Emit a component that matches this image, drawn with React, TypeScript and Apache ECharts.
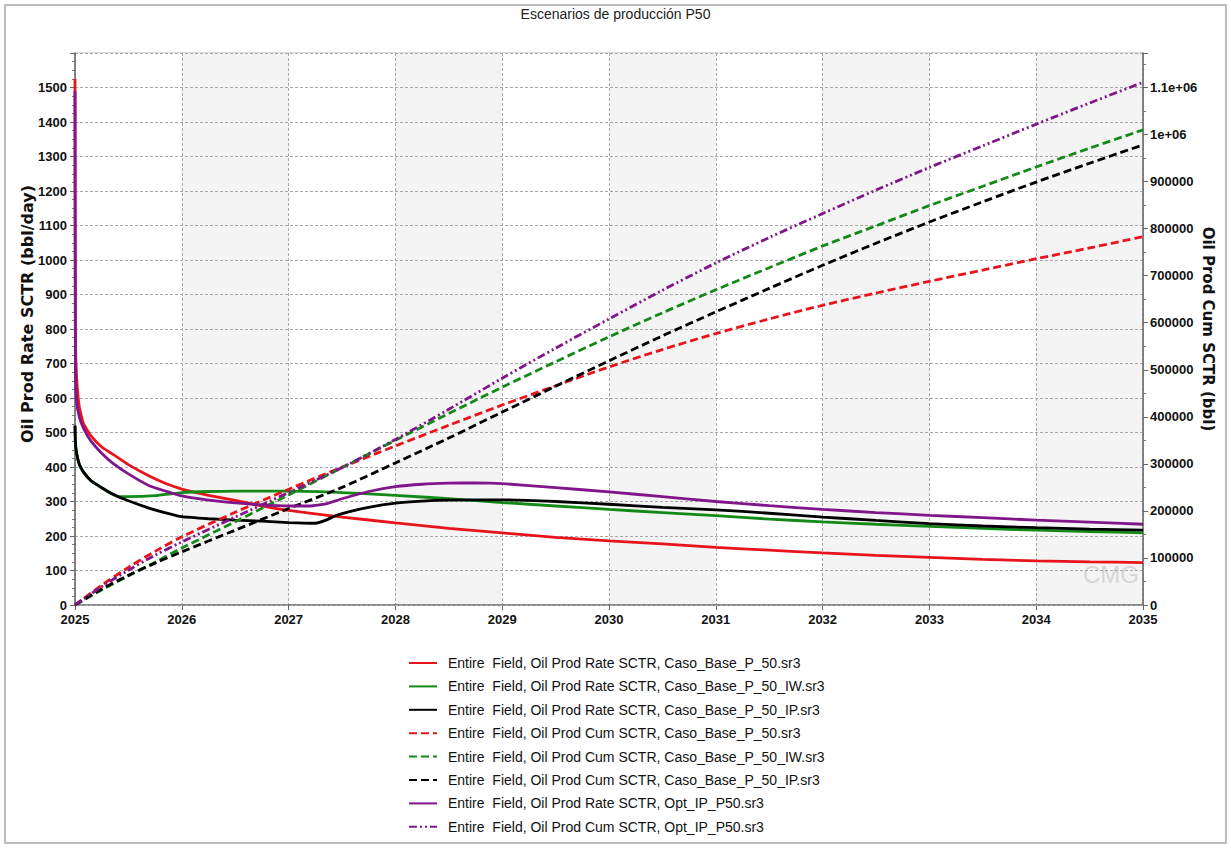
import React, { useEffect, useRef } from "react";
import * as echarts from "echarts";

const FONT = "'Liberation Sans', Arial, Helvetica, sans-serif";
const NAME_FONT = "'DejaVu Sans', 'Liberation Sans', Arial, sans-serif";

const TITLE = "Escenarios de producción P50";
const LEFT_NAME = "Oil Prod Rate SCTR (bbl/day)";
const RIGHT_NAME = "Oil Prod Cum SCTR (bbl)";

const seriesNames = [
  "Entire  Field, Oil Prod Rate SCTR, Caso_Base_P_50.sr3",
  "Entire  Field, Oil Prod Rate SCTR, Caso_Base_P_50_IW.sr3",
  "Entire  Field, Oil Prod Rate SCTR, Caso_Base_P_50_IP.sr3",
  "Entire  Field, Oil Prod Cum SCTR, Caso_Base_P_50.sr3",
  "Entire  Field, Oil Prod Cum SCTR, Caso_Base_P_50_IW.sr3",
  "Entire  Field, Oil Prod Cum SCTR, Caso_Base_P_50_IP.sr3",
  "Entire  Field, Oil Prod Rate SCTR, Opt_IP_P50.sr3",
  "Entire  Field, Oil Prod Cum SCTR, Opt_IP_P50.sr3",
];

// ---- Rate curves (bbl/day) ----
const baseRateT = [2025, 2025.004, 2025.015, 2025.04, 2025.08, 2025.15, 2025.25, 2025.35, 2025.5, 2025.7, 2025.85, 2026, 2026.25, 2026.5, 2026.75, 2027, 2027.5, 2028, 2028.5, 2029, 2029.5, 2030, 2030.5, 2031, 2031.5, 2032, 2032.5, 2033, 2033.5, 2034, 2034.5, 2035];
const baseRate = [1525, 770, 660, 575, 525, 490, 458, 438, 407, 373, 352, 336, 318, 303, 287, 274, 255, 238, 222, 209, 196, 186, 177, 167, 159, 151, 144, 138, 132, 128, 125, 123];

const iwRateT = [2025, 2025.004, 2025.015, 2025.04, 2025.08, 2025.15, 2025.25, 2025.3, 2025.4, 2025.5, 2025.75, 2026, 2026.25, 2026.5, 2027, 2027.5, 2028, 2028.5, 2029, 2029.5, 2030, 2030.5, 2031, 2031.5, 2032, 2032.5, 2033, 2033.5, 2034, 2034.5, 2035];
const iwRate = [520, 470, 440, 408, 385, 360, 340, 330, 315, 314, 317, 326, 329, 330, 330, 326, 318, 308, 297, 287, 277, 268, 259, 249, 241, 234, 228, 222, 217, 213, 209];

const ipRateT = [2025, 2025.004, 2025.015, 2025.04, 2025.08, 2025.15, 2025.25, 2025.35, 2025.5, 2025.7, 2025.85, 2026, 2026.25, 2026.5, 2026.75, 2027, 2027.25, 2027.35, 2027.45, 2027.6, 2027.75, 2028, 2028.25, 2028.5, 2029, 2029.5, 2030, 2030.5, 2031, 2031.5, 2032, 2032.5, 2033, 2033.5, 2034, 2034.5, 2035];
const ipRate = [520, 470, 440, 408, 385, 360, 340, 322, 302, 280, 267, 256, 250, 246, 243, 239, 237, 246, 260, 273, 283, 295, 301, 304, 305, 300, 292, 283, 276, 266, 255, 245, 236, 229, 224, 220, 217];

const optRateT = [2025, 2025.004, 2025.015, 2025.04, 2025.08, 2025.15, 2025.25, 2025.35, 2025.5, 2025.7, 2025.85, 2026, 2026.25, 2026.5, 2026.75, 2027, 2027.2, 2027.35, 2027.5, 2027.75, 2028, 2028.25, 2028.5, 2028.75, 2029, 2029.5, 2030, 2030.5, 2031, 2031.5, 2032, 2032.5, 2033, 2033.5, 2034, 2034.5, 2035];
const optRate = [1490, 680, 590, 545, 512, 475, 440, 412, 380, 345, 330, 316, 304, 296, 290, 287, 287, 293, 308, 329, 343, 350, 353, 354, 352, 340, 328, 314, 300, 288, 277, 268, 260, 253, 246, 240, 234];

// ---- Cumulative curves (bbl) ----
const cumT = [2025, 2025.25, 2025.5, 2025.75, 2026, 2026.5, 2027, 2027.5, 2028, 2028.5, 2029, 2029.5, 2030, 2030.5, 2031, 2031.5, 2032, 2032.5, 2033, 2033.5, 2034, 2034.5, 2035];
const baseCum = [0, 42000, 80000, 114000, 145000, 197000, 246000, 293000, 338000, 382000, 425000, 466000, 506000, 543000, 577000, 608000, 637000, 663000, 688000, 712000, 736000, 759000, 783000];
const iwCum = [0, 32000, 62000, 91000, 121000, 177000, 234000, 292000, 350000, 407000, 463000, 517000, 570000, 621000, 670000, 717000, 763000, 806000, 849000, 890000, 931000, 971000, 1010000];
const ipCum = [0, 34000, 63000, 89000, 113000, 159000, 205000, 250000, 302000, 355000, 410000, 465000, 519000, 572000, 623000, 673000, 722000, 769000, 814000, 857000, 899000, 939000, 978000];
const optCum = [0, 39000, 74000, 106000, 134000, 187000, 239000, 292000, 352000, 416000, 482000, 546000, 608000, 669000, 727000, 781000, 832000, 882000, 930000, 976000, 1022000, 1067000, 1111000];

const xTicks = { min: 2025, max: 2035, step: 1 };
const leftTicks = { min: 0, max: 1600, step: 100 };
const rightTicks = { min: 0, max: 1173333.33, step: 100000 };

const RED = "#e8141b";
const GREEN = "#138a17";
const BLACK = "#000000";
const PURPLE = "#80168a";

const pts = (t: number[], v: number[]) => t.map((x, i) => [x, v[i]]);

function rightFmt(v: number) {
  if (v >= 1000000) {
    const m = Math.round((v / 1000000) * 10) / 10;
    return m + "e+06";
  }
  return String(Math.round(v));
}

export default function App() {
  const ref = useRef<HTMLDivElement>(null);
  useEffect(() => {
    const chart = echarts.init(ref.current as HTMLDivElement, null, { renderer: "svg" });
    const W = 2.8;
    const solid = (color: string) => ({ width: W, color, type: "solid" as const });
    const dashed = (color: string) => ({ width: W, color, type: [8, 4] as any });
    const mk = (name: string, data: number[][], lineStyle: any, yAxisIndex: number, smooth: number | boolean) => ({
      name,
      type: "line",
      data,
      yAxisIndex,
      symbol: "none",
      showSymbol: false,
      smooth,
      lineStyle,
      itemStyle: { color: lineStyle.color },
      z: 5,
      silent: true,
    });
    const gridLine = { show: true, lineStyle: { color: "#a8a8a8", type: [3, 2], width: 1 } };
    const option: any = {
      animation: false,
      backgroundColor: "#ffffff",
      textStyle: { fontFamily: FONT },
      title: {
        text: TITLE,
        left: "center",
        top: 2,
        textStyle: { fontSize: 14, fontWeight: "normal", color: "#222", fontFamily: FONT },
      },
      graphic: [
        {
          type: "rect",
          shape: { x: 5, y: 5, width: 1221, height: 838 },
          style: { fill: "none", stroke: "#bdbdbd", lineWidth: 2 },
          silent: true,
          z: -1,
        },
        {
          type: "text",
          x: 1083,
          y: 562,
          style: { text: "CMG", fill: "#d6d6d6", fontSize: 24, fontFamily: FONT },
          silent: true,
          z: 1,
        },
      ],
      legend: {
        data: seriesNames,
        orient: "vertical",
        left: 403,
        top: 651,
        itemWidth: 28,
        itemHeight: 14,
        itemGap: 9.4,
        selectedMode: false,
        itemStyle: { opacity: 0 },
        textStyle: { fontSize: 14, color: "#111", fontFamily: FONT, padding: [0, 0, 0, 6] },
      },
      grid: {
        left: 75,
        right: 88,
        top: 53,
        bottom: 243,
        show: true,
        borderColor: "#b5b5b5",
        borderWidth: 1,
        backgroundColor: "transparent",
      },
      xAxis: {
        type: "value",
        z: 0,
        min: xTicks.min,
        max: xTicks.max,
        interval: xTicks.step,
        axisLine: { show: true, onZero: false, lineStyle: { color: "#666", width: 1.5 } },
        axisTick: { show: true, length: 5, lineStyle: { color: "#666" } },
        axisLabel: {
          formatter: (v: number) => String(v),
          fontSize: 13,
          fontWeight: "bold",
          color: "#111",
          margin: 8,
          fontFamily: FONT,
        },
        splitLine: gridLine,
        splitArea: { show: true, areaStyle: { color: ["#ffffff", "#f4f4f4"] } },
      },
      yAxis: [
        {
          type: "value",
          z: 2,
          position: "left",
          min: leftTicks.min,
          max: leftTicks.max,
          interval: leftTicks.step,
          name: LEFT_NAME,
          nameLocation: "middle",
          nameGap: 40,
          nameMoveOverlap: false,
          nameRotate: 90,
          nameTextStyle: {
            fontSize: 16,
            fontWeight: "bold",
            color: "#111",
            fontFamily: NAME_FONT,
            padding: [0, 0, 0, 30],
          },
          axisLine: { show: true, lineStyle: { color: "#666", width: 1.5 } },
          axisTick: { show: true, length: 5, lineStyle: { color: "#666" } },
          minorTick: { show: true, splitNumber: 4, length: 3, lineStyle: { color: "#777" } },
          axisLabel: {
            showMaxLabel: false,
            formatter: (v: number) => String(v),
            fontSize: 13,
            fontWeight: "bold",
            color: "#111",
            margin: 8,
            fontFamily: FONT,
          },
          splitLine: gridLine,
        },
        {
          type: "value",
          z: 2,
          position: "right",
          min: rightTicks.min,
          max: rightTicks.max,
          interval: rightTicks.step,
          name: RIGHT_NAME,
          nameLocation: "middle",
          nameGap: 57,
          nameMoveOverlap: false,
          nameRotate: -90,
          nameTextStyle: { fontSize: 15, fontWeight: "bold", color: "#111", fontFamily: NAME_FONT },
          axisLine: { show: true, lineStyle: { color: "#666", width: 1.5 } },
          axisTick: { show: true, length: 5, lineStyle: { color: "#666" } },
          minorTick: { show: true, splitNumber: 2, length: 3, lineStyle: { color: "#777" } },
          axisLabel: {
            showMaxLabel: false,
            formatter: rightFmt,
            fontSize: 13,
            fontWeight: "bold",
            color: "#111",
            margin: 7,
            fontFamily: FONT,
          },
          splitLine: { show: false },
        },
      ],
      series: [
        mk(seriesNames[0], pts(baseRateT, baseRate), solid(RED), 0, 0.15),
        mk(seriesNames[1], pts(iwRateT, iwRate), solid(GREEN), 0, 0.15),
        mk(seriesNames[2], pts(ipRateT, ipRate), solid(BLACK), 0, 0.15),
        mk(seriesNames[3], pts(cumT, baseCum), dashed(RED), 1, 0.3),
        mk(seriesNames[4], pts(cumT, iwCum), dashed(GREEN), 1, 0.3),
        mk(seriesNames[5], pts(cumT, ipCum), dashed(BLACK), 1, 0.3),
        mk(seriesNames[6], pts(optRateT, optRate), solid(PURPLE), 0, 0.15),
        mk(seriesNames[7], pts(cumT, optCum), { width: W, color: PURPLE, type: [8, 3, 2, 3, 2, 3] }, 1, 0.3),
      ],
    };
    chart.setOption(option);
    return () => chart.dispose();
  }, []);
  return (
    <div
      ref={ref}
      style={{ position: "absolute", left: 0, top: 0, width: 1231, height: 848, background: "#fff" }}
    />
  );
}
